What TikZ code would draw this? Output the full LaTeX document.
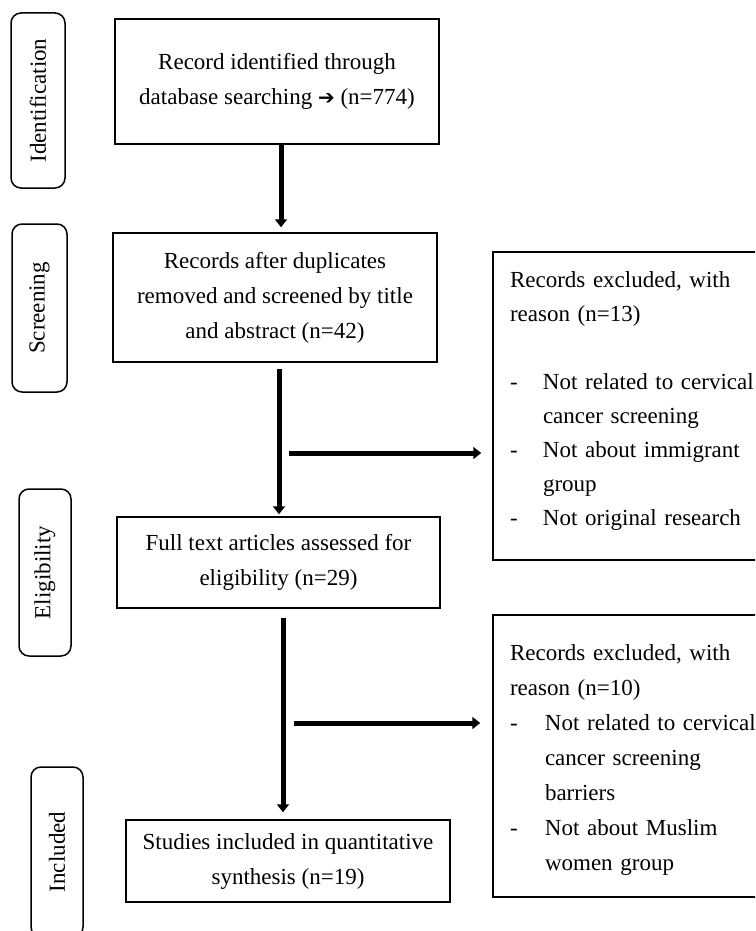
\documentclass[tikz,border=0pt]{standalone}
\usepackage{fontspec}
\setmainfont{Liberation Serif}
\newfontfamily\arrowfont{DejaVu Sans}
\usetikzlibrary{arrows.meta}
\begin{document}
\begin{tikzpicture}[x=1pt,y=1pt,
  box/.style={draw, line width=1.5pt, inner sep=0pt, align=center,
    font=\fontsize{23}{35}\selectfont},
  exbox/.style={draw, line width=1.5pt, inner sep=0pt},
  extext/.style={inner sep=0pt, align=left, text width=235pt},
  side/.style={draw, line width=1.5pt, rounded corners=10pt, inner sep=0pt,
    rotate=90, font=\fontsize{23}{28}\selectfont},
  arr/.style={line width=5pt, -{Triangle[width=12pt,length=8pt]}}]
\useasboundingbox (0,0) rectangle (755,-931);
\begin{scope}
\clip (0,0) rectangle (755,-931);
% side phase labels
\node[side, minimum width=175pt, minimum height=54pt] (s1) at (38,-100.5) {Identification};
\node[side, minimum width=168pt, minimum height=55pt] (s2) at (39.5,-308) {Screening};
\node[side, minimum width=167pt, minimum height=52pt] (s3) at (45,-572.5) {Eligibility};
\node[side, minimum width=170pt, minimum height=52pt] (s4) at (57,-852) {Included};
% main boxes
\node[box, minimum width=324pt, minimum height=125pt] (b1) at (277,-81.5)
  {Record identified through\\database searching {\arrowfont\fontsize{20}{20}\selectfont ➔} (n=774)};
\node[box, minimum width=324pt, minimum height=129pt] (b2) at (275,-297.5)
  {Records after duplicates\\removed and screened by title\\and abstract (n=42)};
\node[box, minimum width=323pt, minimum height=91pt] (b3) at (278.5,-562.5)
  {Full text articles assessed for\\eligibility (n=29)};
\node[box, minimum width=324pt, minimum height=82pt] (b4) at (288,-861)
  {Studies included in quantitative\\synthesis (n=19)};
% exclusion boxes
\node[exbox, minimum width=269pt, minimum height=308pt] (e1) at (627.5,-406) {};
\node[extext, font=\fontsize{23}{34}\selectfont] (e1t) at (627.5,-401)
  {\mbox{Records excluded, with}\\
   \mbox{reason (n=13)}\\
   \mbox{}\\
   \mbox{\makebox[33pt][l]{-}Not related to cervical}\\
   \mbox{\hspace*{33pt}cancer screening}\\
   \mbox{\makebox[33pt][l]{-}Not about immigrant}\\
   \mbox{\hspace*{33pt}group}\\
   \mbox{\makebox[33pt][l]{-}Not original research}};
\node[exbox, minimum width=269pt, minimum height=282pt] (e2) at (627.5,-756) {};
\node[extext, font=\fontsize{23}{35}\selectfont] (e2t) at (627.5,-760)
  {\mbox{Records excluded, with}\\
   \mbox{reason (n=10)}\\
   \mbox{\makebox[35pt][l]{-}Not related to cervical}\\
   \mbox{\hspace*{35pt}cancer screening}\\
   \mbox{\hspace*{35pt}barriers}\\
   \mbox{\makebox[35pt][l]{-}Not about Muslim}\\
   \mbox{\hspace*{35pt}women group}};
% connectors
\coordinate (h1) at (289,-453);
\coordinate (h2) at (294,-723);
\draw[arr, shorten >=5pt] ([xshift=4pt]b1.south) -- ([xshift=4pt]b1.south |- b2.north);
\draw[arr, shorten <=6pt, shorten >=2pt] ([xshift=4pt]b2.south) -- ([xshift=4pt]b2.south |- b3.north);
\draw[arr, shorten <=9pt, shorten >=7pt] ([xshift=4.5pt]b3.south) -- ([xshift=4.5pt]b3.south |- b4.north);
\draw[arr, shorten >=11pt] (h1) -- (e1.west |- h1);
\draw[arr, shorten >=12pt] (h2) -- (e2.west |- h2);
\end{scope}
\end{tikzpicture}
\end{document}
